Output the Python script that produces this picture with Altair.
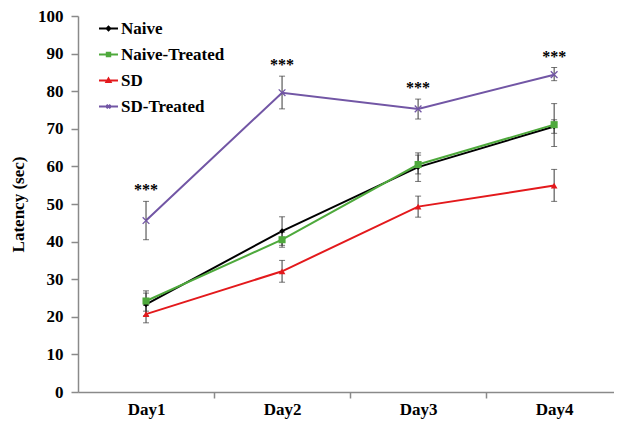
import altair as alt
import pandas as pd

days = ["Day1", "Day2", "Day3", "Day4"]
series = ["Naive", "Naive-Treated", "SD", "SD-Treated"]

naive = [23.3, 42.8, 59.8, 70.6]
naive_lo = [20.3, 39.0, 56.0, 68.8]
naive_hi = [26.3, 46.6, 63.6, 72.4]

nt = [24.2, 40.5, 60.5, 71.1]
nt_lo = [21.5, 38.5, 58.0, 65.3]
nt_hi = [26.9, 42.5, 63.0, 76.7]

sd = [20.7, 32.1, 49.3, 54.9]
sd_lo = [18.4, 29.2, 46.5, 50.7]
sd_hi = [23.0, 35.0, 52.1, 59.2]

sdt = [45.6, 79.6, 75.3, 84.4]
sdt_lo = [40.5, 75.3, 72.6, 82.8]
sdt_hi = [50.7, 84.0, 77.9, 86.3]

sig = ["***", "***", "***", "***"]

colors = ["#000000", "#4ea93c", "#e3191c", "#7256a5"]
marker_shapes = ["diamond", "square", "triangle-up", "M-1,-1L1,1M-1,1L1,-1"]
marker_sizes = [30, 50, 45, 45]
legend_shapes = [
    "M-1,0H1M0,-0.2L0.2,0L0,0.2L-0.2,0Z",
    "M-1,0H1M-0.18,-0.18H0.18V0.18H-0.18Z",
    "M-1,0H1M0,-0.22L0.22,0.17H-0.22Z",
    "M-1,0H1M-0.2,-0.2L0.2,0.2M-0.2,0.2L0.2,-0.2",
]

FONT = "Liberation Serif"

rows = []
for s, vals, los, his in [
    (series[0], naive, naive_lo, naive_hi),
    (series[1], nt, nt_lo, nt_hi),
    (series[2], sd, sd_lo, sd_hi),
    (series[3], sdt, sdt_lo, sdt_hi),
]:
    for i, d in enumerate(days):
        rows.append({"series": s, "day": d, "idx": i + 1,
                     "value": vals[i], "lo": los[i], "hi": his[i]})
df = pd.DataFrame(rows)

sig_df = pd.DataFrame({"idx": [1, 2, 3, 4], "hi": sdt_hi, "sig": sig})

color_scale = alt.Scale(domain=series, range=colors)
x_scale = alt.Scale(domain=[0.5, 4.44], nice=False, zero=False)
y_scale = alt.Scale(domain=[0, 100], nice=False)

x_axis = alt.Axis(
    title=None,
    values=[1, 1.5, 2, 2.5, 3, 3.5, 4],
    labelExpr="datum.value % 1 === 0 ? 'Day' + datum.value : ''",
    tickSize=6,
    tickOpacity={"condition": {"test": "datum.value % 1 === 0", "value": 0}, "value": 1},
    labelPadding=3,
    labelOverlap=False,
    grid=False,
)
y_axis = alt.Axis(
    title="Latency (sec)",
    values=list(range(0, 101, 10)),
    tickSize=7,
    labelPadding=8,
    titlePadding=10,
    labelOverlap=False,
    grid=False,
)
X = alt.X("idx:Q", scale=x_scale, axis=x_axis)
Y = lambda f: alt.Y(f, scale=y_scale, axis=y_axis)

base = alt.Chart(df)

layers = []
for s, col in zip(series, colors):
    layers.append(
        base.transform_filter(alt.datum.series == s)
        .mark_line(strokeWidth=2, color=col)
        .encode(x=X, y=Y("value:Q"))
    )

layers.append(base.mark_rule(color="#3a3a3a", strokeWidth=1).encode(
    x=X, y=Y("lo:Q"), y2="hi:Q"))
layers.append(base.mark_tick(color="#3a3a3a", orient="horizontal", size=6, thickness=1).encode(
    x=X, y=Y("lo:Q")))
layers.append(base.mark_tick(color="#3a3a3a", orient="horizontal", size=6, thickness=1).encode(
    x=X, y=Y("hi:Q")))

for s, shp, sz, col in zip(series, marker_shapes, marker_sizes, colors):
    layers.append(
        base.transform_filter(alt.datum.series == s).mark_point(
            filled=True, shape=shp, size=sz, fill=col, stroke=col,
            strokeWidth=1.3 if s == "SD-Treated" else 0, opacity=1,
        ).encode(x=X, y=Y("value:Q"))
    )

legend_cfg = alt.Legend(
    title=None, orient="none", legendX=20, legendY=2,
    labelFont=FONT, labelFontWeight="bold", labelFontSize=17, labelColor="black",
    symbolSize=360, symbolStrokeWidth=2, symbolOpacity=1,
    rowPadding=7, labelOffset=2,
)
layers.append(base.transform_filter(alt.datum.idx == 1).mark_point(
    filled=True, opacity=0, strokeWidth=2
).encode(
    x=X, y=Y("value:Q"),
    color=alt.Color("series:N", scale=color_scale, legend=legend_cfg),
    stroke=alt.Stroke("series:N", scale=color_scale, legend=legend_cfg),
    shape=alt.Shape("series:N", scale=alt.Scale(domain=series, range=legend_shapes), legend=legend_cfg),
))

layers.append(alt.Chart(sig_df).mark_text(
    font=FONT, fontSize=16, fontWeight="bold", dy=-11, baseline="middle", color="black"
).encode(x=X, y=Y("hi:Q"), text="sig:N"))

chart = alt.layer(*layers).properties(
    width=536, height=376,
    autosize=alt.AutoSizeParams(type="none"),
    padding={"left": 70, "top": 8, "right": 0, "bottom": 27},
    background="white",
).configure_view(stroke=None).configure_axis(
    domainColor="#8a8a8a", tickColor="#8a8a8a", domainWidth=1.5, tickWidth=1.5,
    labelFont=FONT, labelFontWeight="bold", labelFontSize=17, labelColor="black",
    titleFont=FONT, titleFontWeight="bold", titleFontSize=17, titleColor="black",
)

chart.save("out.html", embed_options={"renderer": "svg", "actions": False})
